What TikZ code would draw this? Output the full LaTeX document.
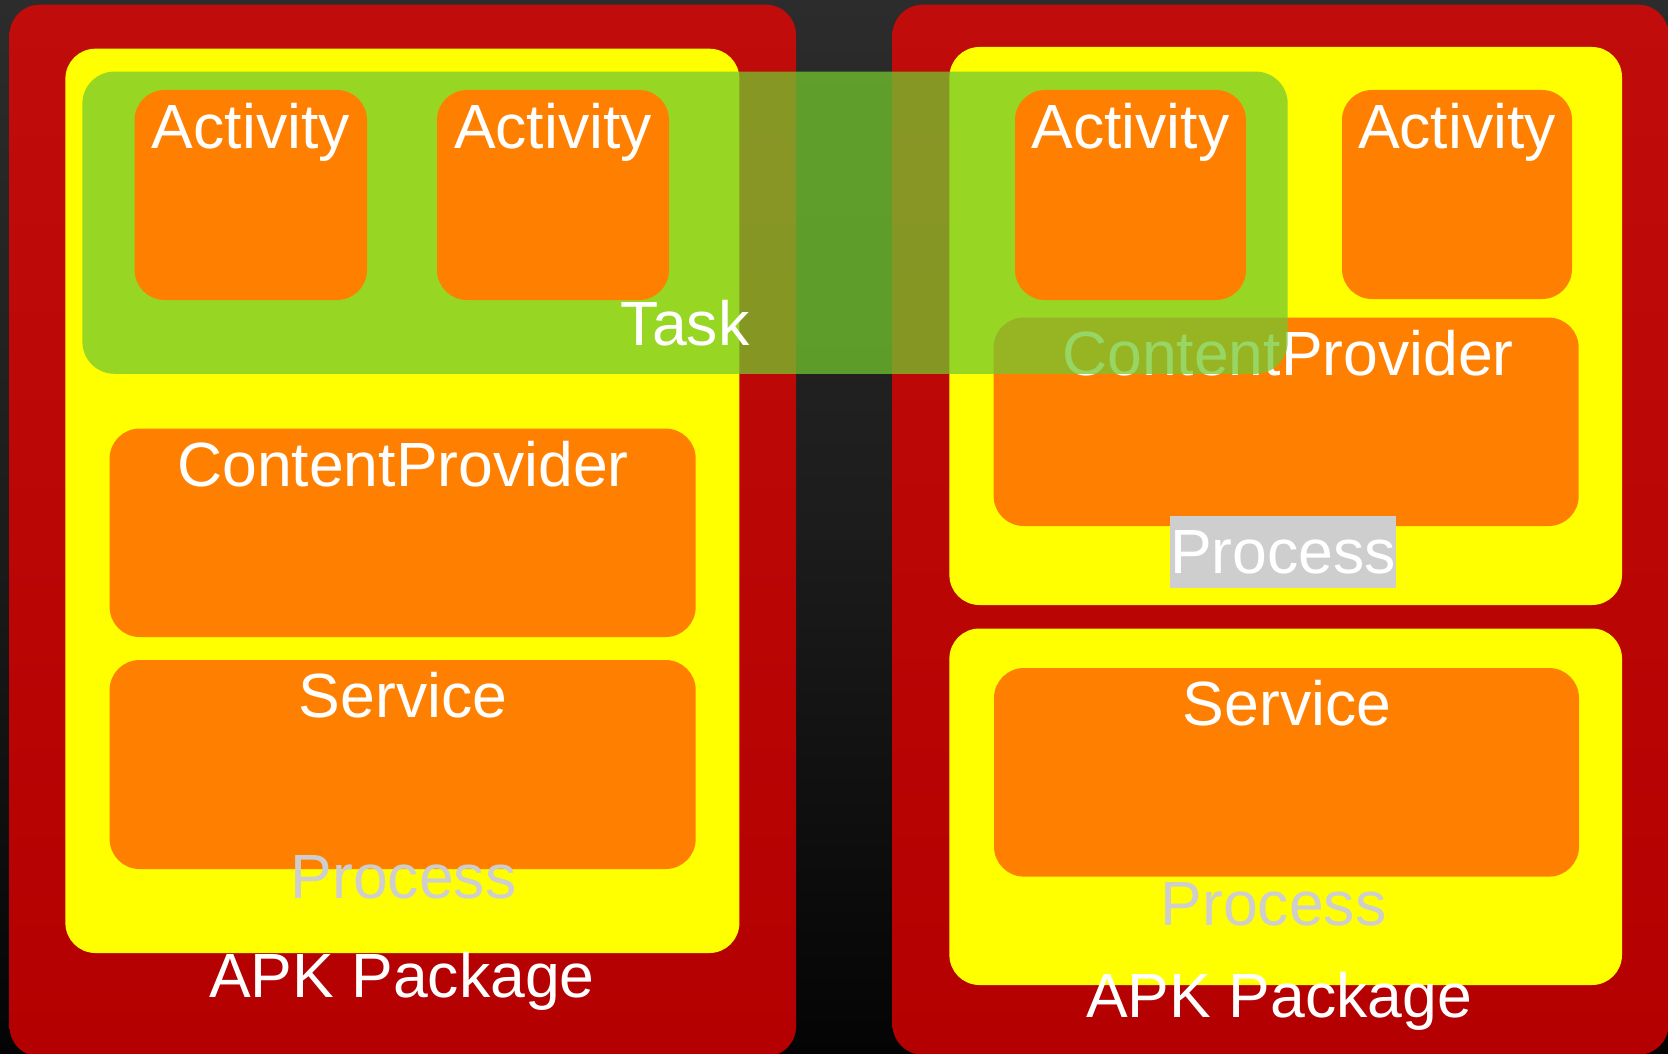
\documentclass[tikz,border=0pt]{standalone}
\usepackage{fontspec}
\setmainfont{Liberation Sans}
\definecolor{bgtop}{RGB}{44,44,44}
\definecolor{bgmid}{RGB}{28,28,28}
\definecolor{bgbot}{RGB}{4,4,4}
\definecolor{redtop}{RGB}{192,12,10}
\definecolor{redbot}{RGB}{180,0,0}
\definecolor{yel}{RGB}{255,255,0}
\definecolor{org}{RGB}{255,128,0}
\definecolor{tgreen}{RGB}{116,200,46}
\definecolor{procgray}{RGB}{206,206,206}
\begin{document}
\begin{tikzpicture}[x=1pt,y=-1pt,
  box/.style={rectangle,draw=none,inner sep=0pt,outer sep=0pt,rounded corners=30pt,anchor=north west},
  redbox/.style={box,top color=redtop,bottom color=redbot},
  yelbox/.style={box,fill=yel},
  orgbox/.style={box,fill=org},
  taskbox/.style={box,fill=tgreen,fill opacity=0.74,rounded corners=32pt},
  lbl/.style={inner sep=0pt,outer sep=0pt,anchor=base,text=white,font=\fontsize{62.5}{75}\selectfont},
  glbl/.style={lbl,text=procgray}]
\clip (0,0) rectangle (1668,1054);
\shade[top color=bgtop,bottom color=bgbot,middle color=bgmid] (0,0) rectangle (1668,1054);
% packages
\node[redbox,minimum width=786.4pt,minimum height=1052pt] (redL) at (9.6,4.7) {};
\node[redbox,minimum width=776pt,minimum height=1050pt] (redR) at (892.5,4.7) {};
% processes
\node[yelbox,minimum width=674pt,minimum height=904.3pt] (yelL) at (65.4,48.7) {};
\node[yelbox,minimum width=672.6pt,minimum height=558pt] (yelRU) at (949.4,47) {};
\node[yelbox,minimum width=672.6pt,minimum height=356.5pt] (yelRL) at (949.4,628.5) {};
% components
\node[orgbox,minimum width=586.1pt,minimum height=208.4pt] (cpL) at (109.6,428.6) {};
\node[orgbox,minimum width=586.1pt,minimum height=209pt] (svL) at (109.6,660) {};
\node[orgbox,minimum width=585.1pt,minimum height=208.4pt] (cpR) at (993.6,317.6) {};
\node[orgbox,minimum width=585pt,minimum height=208.6pt] (svR) at (994,668) {};
\node[lbl] (cpLt) at (403,486) {ContentProvider};
\node[lbl] (svLt) at (403,717.6) {Service};
\node[lbl] (cpRt) at (1288,375.8) {ContentProvider};
\node[lbl] (svRt) at (1287,725) {Service};
\node[lbl,fill=procgray,text height=56.6pt,text depth=15pt] (prRU) at (1283,573) {Process};
\node[glbl] (prL) at (403.5,898) {Process};
\node[glbl] (prRL) at (1273.5,925) {Process};
\node[lbl] (apkL) at (402,997.6) {APK Package};
\node[lbl] (apkR) at (1279,1017) {APK Package};
% task
\node[taskbox,minimum width=1205.3pt,minimum height=302.2pt] (task) at (82.4,71.6) {};
\node[orgbox,minimum width=232.4pt,minimum height=210pt] (act1) at (134.6,90) {};
\node[orgbox,minimum width=232pt,minimum height=210pt] (act2) at (437,90) {};
\node[orgbox,minimum width=231pt,minimum height=210pt] (act3) at (1015,90) {};
\node[orgbox,minimum width=230pt,minimum height=209pt] (act4) at (1342,90) {};
\node[lbl] (act1t) at (250.8,149) {Activity};
\node[lbl] (act2t) at (553,149) {Activity};
\node[lbl] (act3t) at (1130.5,149) {Activity};
\node[lbl] (act4t) at (1457,149) {Activity};
\node[lbl] (taskt) at (685,345) {Task};
\end{tikzpicture}
\end{document}
